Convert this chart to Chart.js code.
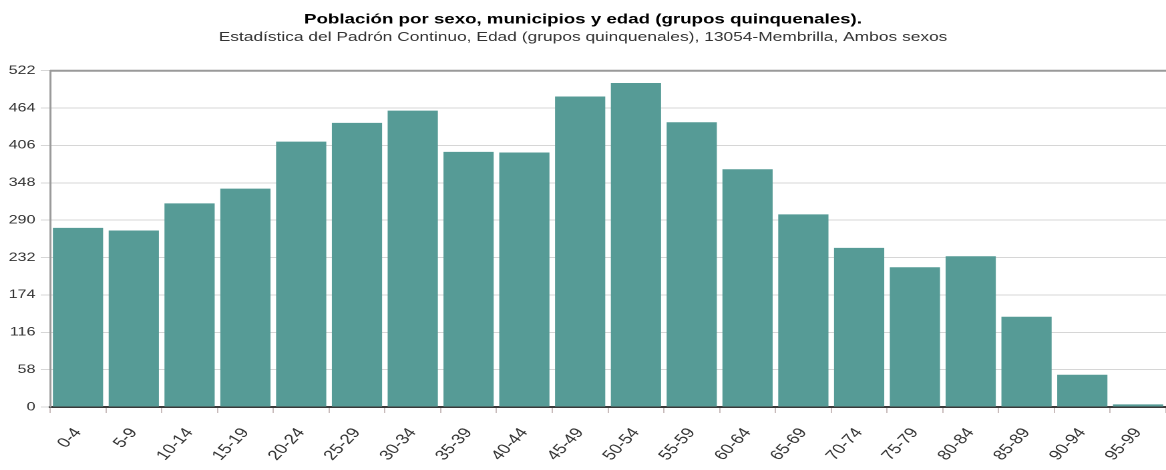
<!DOCTYPE html>
<html>
<head>
<meta charset="utf-8">
<script src="https://cdn.jsdelivr.net/npm/chart.js@4"></script>
<style>
html,body{margin:0;padding:0;background:#fff;overflow:hidden;}
#wrap{width:873px;height:470px;position:absolute;left:0;top:0;transform:scaleX(1.33562);transform-origin:0 0;}
</style>
</head>
<body>
<div id="wrap"><canvas id="c" width="873" height="470"></canvas></div>
<script>
const categories = ["0-4","5-9","10-14","15-19","20-24","25-29","30-34","35-39","40-44","45-49","50-54","55-59","60-64","65-69","70-74","75-79","80-84","85-89","90-94","95-99"];
const population = [278, 274, 316, 339, 412, 441, 460, 396, 395, 482, 503, 442, 369, 299, 247, 217, 234, 140, 50, 4];
const yTicks = [0, 58, 116, 174, 232, 290, 348, 406, 464, 522];
const titleText = "Población por sexo, municipios y edad (grupos quinquenales).";
const subtitleText = "Estadística del Padrón Continuo, Edad (grupos quinquenales), 13054-Membrilla, Ambos sexos";

const topBorder = {
  id: 'topBorder',
  afterDraw(chart) {
    const {ctx, chartArea} = chart;
    ctx.save();
    ctx.strokeStyle = '#9a9a9a';
    ctx.lineWidth = 2;
    ctx.beginPath();
    ctx.moveTo(chartArea.left, chartArea.top);
    ctx.lineTo(chartArea.right, chartArea.top);
    ctx.stroke();
    ctx.restore();
  }
};

const FONT = 'Liberation Sans, Arial, sans-serif';

new Chart(document.getElementById('c'), {
  type: 'bar',
  data: {
    labels: categories,
    datasets: [{
      data: population,
      backgroundColor: '#569b96',
      borderWidth: 0,
      categoryPercentage: 1,
      barPercentage: 0.9
    }]
  },
  options: {
    responsive: false,
    animation: false,
    devicePixelRatio: 2,
    layout: { padding: { left: 0, right: 0, top: 0, bottom: 0 } },
    plugins: {
      legend: { display: false },
      tooltip: { enabled: false },
      title: {
        display: true,
        text: titleText,
        color: '#000',
        font: { family: FONT, size: 14, weight: 'bold' },
        padding: { top: 11, bottom: 1.8 }
      },
      subtitle: {
        display: true,
        text: subtitleText,
        color: '#333',
        font: { family: FONT, size: 13 },
        padding: { top: 0, bottom: 25.5 }
      }
    },
    scales: {
      x: {
        afterFit(scale) { scale.height = 63; scale.paddingLeft = 0; scale.paddingRight = 0; },
        grid: { offset: true, drawOnChartArea: false, drawTicks: true, tickLength: 6, color: '#c9bcbc' },
        border: { display: true, color: '#3a3a3a', width: 2 },
        ticks: {
          color: '#333',
          font: { family: FONT, size: 14 },
          maxRotation: 53, minRotation: 53, autoSkip: false, padding: 12
        }
      },
      y: {
        min: 0, max: 522,
        afterBuildTicks(scale) { scale.ticks = yTicks.map(v => ({ value: v })); },
        afterFit(scale) { scale.width = 37.5; },
        grid: { color: '#d6d6d6', tickLength: 7, drawTicks: true },
        border: { display: true, color: '#9a9a9a', width: 1.5 },
        ticks: {
          color: '#333',
          font: { family: FONT, size: 12 },
          padding: 4
        }
      }
    }
  },
  plugins: [topBorder]
});
</script>
</body>
</html>
